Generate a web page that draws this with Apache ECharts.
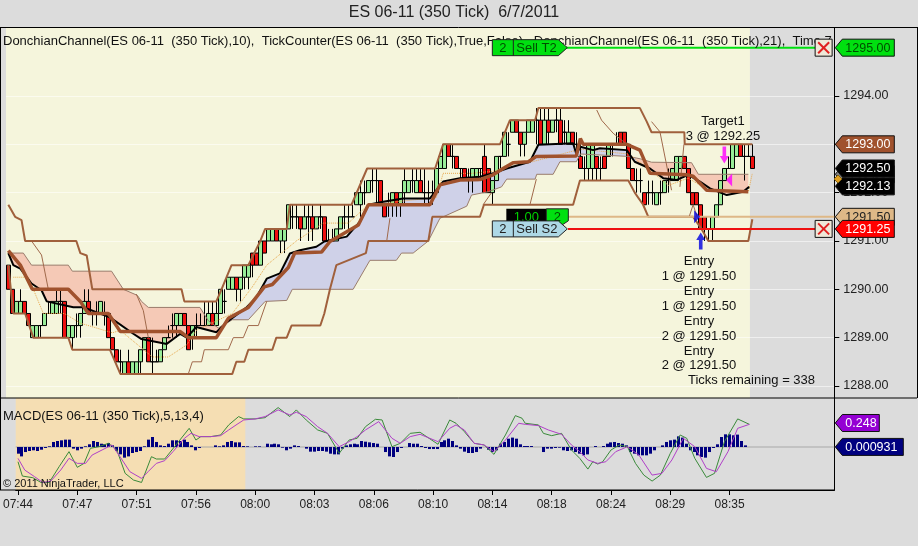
<!DOCTYPE html>
<html><head><meta charset="utf-8"><style>html,body{margin:0;padding:0;background:#dcdcdc;overflow:hidden}#c{width:918px;height:546px}</style>
<script src="https://cdn.jsdelivr.net/npm/echarts@6/dist/echarts.min.js"></script></head><body><div id="c"></div>
<script>
const opens=[1290.5,1290,1289.5,1289.5,1289.75,1289.5,1289,1289,1289.25,1289.25,1289.5,1289.5,1289.5,1289.75,1289.75,1289,1289,1289.25,1289.25,1289.5,1289.75,1289.5,1289.5,1289.5,1289.5,1289.5,1289,1288.75,1288.5,1288.25,1288.5,1288.25,1288.25,1288.5,1288.75,1289,1288.5,1288.5,1288.5,1288.75,1289,1289.25,1289.25,1289.25,1289.5,1289.25,1289,1289.25,1289.25,1289.25,1289.25,1289.5,1289.25,1289.5,1289.75,1290,1290,1290.25,1290,1290.25,1290.25,1290.75,1290.75,1290.5,1291,1291,1291,1291.25,1291,1291,1291.25,1291.5,1291.5,1291.5,1291.25,1291.5,1291.5,1291.25,1291.5,1291.5,1291,1291,1291,1291.25,1291.5,1291.5,1291.5,1291.75,1291.75,1292,1292,1292.25,1292.25,1292.25,1291.75,1291.75,1291.75,1292,1291.75,1292,1292,1292.25,1292,1292.25,1292,1292,1292,1292,1292.5,1292.5,1293,1292.75,1292.75,1292.5,1292.5,1292.25,1292.25,1292.25,1292.5,1292.75,1292.5,1292,1292.25,1292.75,1292.75,1293,1293.25,1293.5,1293.25,1293,1293.25,1293.25,1293.5,1293.5,1293,1293.5,1293.25,1293.5,1293.5,1293.25,1293,1293.25,1293,1292.75,1292.5,1292.5,1292.5,1292.75,1292.5,1292.75,1292.75,1293,1293,1293.25,1293.25,1293,1292.5,1292.25,1292.25,1292,1292,1292,1291.75,1292,1292,1292.25,1292.25,1292.25,1292.5,1292.75,1292.5,1292,1292,1291.75,1291.5,1291.25,1291.25,1291.5,1291.75,1292.25,1292.5,1292.5,1292.75,1293,1292.75,1292.75,1292.75];
const closes=[1290,1289.5,1289.75,1289.75,1289.5,1289.25,1289.25,1289.25,1289.25,1289.5,1289.5,1289.75,1289.75,1289.75,1289,1289.25,1289.25,1289.25,1289.5,1289.75,1289.5,1289.5,1289.5,1289.75,1289.5,1289,1288.75,1288.5,1288.5,1288.5,1288.25,1288.5,1288.5,1288.75,1289,1288.5,1288.5,1288.5,1288.75,1289,1289,1289.25,1289.5,1289.5,1289.25,1288.75,1289.25,1289.25,1289.25,1289.25,1289.5,1289.25,1289.5,1290,1289.75,1290.25,1290.25,1290,1290.25,1290.5,1290.5,1290.5,1290.5,1291,1290.75,1291.25,1291.25,1291,1291.25,1291.25,1291.75,1291.5,1291.5,1291.25,1291.5,1291.5,1291.25,1291.5,1291.5,1291,1291,1291,1291.25,1291.5,1291.5,1291.5,1291.5,1292,1292,1292,1292.25,1292.25,1292.25,1291.75,1291.5,1291.75,1292,1291.75,1292,1292.25,1292.25,1292.25,1292.25,1292,1292,1292,1292,1292.5,1292.75,1293,1292.75,1292.75,1292.5,1292.5,1292.25,1292.25,1292.5,1292.5,1292.5,1292,1292,1292.25,1292.75,1292.75,1293.25,1293,1293.5,1293.25,1293,1293.25,1293.5,1293.5,1293.5,1293,1293.5,1293.25,1293.5,1293.5,1293,1293.25,1293.25,1293,1293,1292.5,1292.5,1293,1293,1292.5,1292.5,1292.5,1293,1293,1293,1293,1293,1292.5,1292.25,1292.25,1292.25,1291.75,1292,1292,1292,1292,1292.25,1292.25,1292.5,1292.75,1292.75,1292.5,1292,1291.75,1291.75,1291.25,1291.25,1291.25,1291.5,1291.75,1292.25,1292.5,1292.5,1293,1293,1292.75,1292.75,1292.75,1292.5];
const lows=[1290,1289.5,1289.5,1289.5,1289.5,1289.25,1289,1289,1289,1289.25,1289.5,1289.5,1289.5,1289.5,1289,1289,1288.75,1289,1289,1289.5,1289.5,1289.25,1289.25,1289.5,1289.25,1289,1288.75,1288.5,1288.25,1288.25,1288.25,1288.25,1288.25,1288.25,1288.75,1288.5,1288.25,1288.5,1288.5,1288.75,1289,1289,1289,1289.25,1289.25,1288.75,1288.75,1289,1289.25,1289.25,1289.25,1289.25,1289.25,1289.5,1289.5,1290,1290,1289.75,1289.75,1290,1290,1290.25,1290.5,1290.5,1290.75,1291,1291,1291,1290.75,1290.75,1291.25,1291.25,1291.25,1291,1291.25,1291,1291,1291.25,1291.25,1291,1291,1291,1291,1291.25,1291.25,1291.25,1291.5,1291.75,1291.5,1291.75,1292,1292,1291.75,1291.75,1291.5,1291.5,1291.5,1291.5,1291.5,1291.75,1292,1292,1292,1292,1291.75,1291.75,1291.75,1292,1292.5,1292.5,1292.75,1292.5,1292.5,1292.25,1292.25,1292,1292,1292.25,1292.25,1292,1292,1291.75,1292.25,1292.5,1292.75,1292.75,1293.25,1293.25,1292.75,1292.75,1293.25,1293.25,1293,1293,1293,1293,1293.25,1293.25,1293,1293,1293,1293,1292.75,1292.5,1292.25,1292.25,1292.25,1292.25,1292.25,1292.5,1292.75,1292.75,1293,1293,1293,1292.5,1292.25,1292,1292,1291.75,1291.75,1291.75,1291.75,1291.75,1292,1292,1292.25,1292.25,1292.5,1292.5,1292,1291.75,1291.75,1291.25,1291,1291,1291,1291.5,1291.75,1292.25,1292.5,1292.5,1292.75,1292.75,1292.25,1292.75,1292.5];
const highs=[1290.5,1290,1289.75,1290,1289.75,1289.5,1289.25,1289.25,1289.25,1289.5,1289.75,1289.75,1290,1290,1289.75,1289.25,1289.25,1289.5,1289.5,1290,1290,1289.5,1289.75,1289.75,1289.75,1289.5,1289,1288.75,1288.75,1288.5,1288.75,1288.5,1288.5,1288.75,1289,1289,1289,1288.75,1288.75,1289,1289.25,1289.5,1289.5,1289.5,1289.5,1289.25,1289.25,1289.5,1289.5,1289.75,1289.75,1289.75,1289.75,1290,1290,1290.25,1290.25,1290.25,1290.25,1290.5,1290.5,1290.75,1290.75,1291,1291,1291.25,1291.25,1291.25,1291.25,1291.25,1291.75,1291.75,1291.75,1291.5,1291.75,1291.75,1291.75,1291.5,1291.75,1291.5,1291.25,1291.25,1291.25,1291.5,1291.75,1291.75,1291.75,1292,1292.25,1292.25,1292.25,1292.5,1292.5,1292.25,1291.75,1292,1292,1292,1292,1292.5,1292.25,1292.5,1292.5,1292.5,1292.5,1292.25,1292.25,1292.5,1292.75,1293,1293,1293,1292.75,1292.5,1292.5,1292.5,1292.5,1292.5,1292.5,1293,1292.5,1292.25,1292.75,1292.75,1293.25,1293.25,1293.5,1293.5,1293.25,1293.25,1293.5,1293.5,1293.75,1293.75,1293.75,1293.75,1293.5,1293.75,1293.75,1293.5,1293.5,1293.25,1293.25,1293,1292.75,1293,1293,1292.75,1292.75,1292.75,1293,1293,1293.25,1293.25,1293.25,1293,1292.5,1292.5,1292.5,1292,1292.25,1292.25,1292,1292.25,1292.25,1292.5,1292.5,1292.75,1292.75,1292.75,1292.5,1292,1292,1291.75,1291.5,1291.25,1291.5,1291.75,1292.25,1292.5,1292.75,1293,1293,1293,1293,1293,1293];

const timeLabels=['07:44','07:47','07:51','07:56','08:00','08:03','08:06','08:10','08:14','08:18','08:24','08:29','08:35'];
const timeTickBars=[0,15,30,45,60,75,90,105,120,135,150,165,180];
const priceTicks=[1288,1289,1290,1291,1292,1293,1294];

const channelUpper=[[0,1291.75],[1.7,1291.5],[3.3,1291.43],[4.2,1291],[17,1291],[18,1290.75],[19.6,1290.7],[21,1290],[43.3,1290],[44,1289.75],[52,1289.75],[53.3,1290],[55.8,1290.5],[60,1290.5],[63,1291],[64.2,1291.25],[69.6,1291.25],[70.4,1291.75],[85.8,1291.75],[89.7,1292.5],[106.7,1292.5],[108.7,1293],[122.9,1293],[125.4,1293.5],[131.7,1293.5],[132.5,1293.75],[157.9,1293.75],[159.6,1293.47],[160.8,1293.25],[169,1293.25],[169.1,1293],[186,1293]];
const channelLower=[[0,1290.5],[1.25,1289.5],[4.2,1289.5],[6.25,1289],[15,1289],[16,1288.75],[25.4,1288.75],[28,1288.25],[56,1288.25],[57,1288.5],[59,1288.5],[60,1288.75],[66,1288.75],[67,1289],[69.6,1289],[70.8,1289.25],[78,1289.25],[79,1289.5],[80.4,1290],[82,1290.5],[89.4,1290.75],[90,1291],[105,1291],[106,1291.5],[117.9,1291.5],[118.9,1291.75],[141.2,1291.75],[142.9,1292.25],[155,1292.25],[156.6,1292],[158.7,1291.75],[160,1291.5],[171.2,1291.5],[173.3,1291.25],[175,1291],[185,1291],[186,1291.45]];
const midThick=[[0,1290.8],[3,1290.5],[6,1290],[15,1290],[18,1289.75],[20,1289.5],[25,1289.5],[28,1289.125],[43,1289.125],[45,1289],[52,1289],[55,1289.4],[60,1289.625],[64,1290.05],[66,1290.1],[70,1290.45],[71.6,1290.75],[78.3,1290.77],[80.4,1290.99],[87.5,1291.33],[90,1291.75],[105.4,1291.75],[107.9,1292.16],[112.9,1292.26],[117.9,1292.27],[121.2,1292.37],[123.7,1292.5],[126.2,1292.62],[130,1292.64],[132,1292.75],[142,1292.76],[143,1293.12],[143.7,1293],[154.6,1293],[157.9,1292.88],[160.4,1292.4],[169.6,1292.37],[171.2,1292.34],[174.6,1292.05],[185,1292.02]];
const trendBlack=[[0,1290.75],[1.25,1290.5],[3,1290.43],[5.8,1290.12],[8.3,1289.98],[9.6,1289.75],[16.25,1289.63],[18.75,1289.63],[25.4,1289.42],[31.25,1289.08],[33.3,1288.97],[39.6,1288.87],[43,1289.08],[44.6,1289],[47,1289.22],[52,1289.11],[54.6,1289.32],[59.6,1289.63],[62,1289.83],[64.6,1290.22],[67.9,1290.33],[70.4,1290.74],[72.9,1290.81],[77,1290.88],[79,1290.99],[84.6,1291.09],[87.9,1291.4],[90,1291.75],[93.7,1291.81],[98.7,1291.88],[105.4,1291.88],[108.7,1292.23],[112.9,1292.3],[117.9,1292.33],[121.2,1292.4],[124.6,1292.5],[130.4,1292.64],[132.5,1292.99],[141.2,1293.02],[142,1292.8],[143,1292.95],[146.2,1292.88],[147.9,1292.92],[154.6,1292.88],[156.6,1292.64],[160.4,1292.5],[163.7,1292.3],[167,1292.26],[170,1292.37],[172.9,1292.23],[175.4,1292.09],[179.6,1291.95],[183.7,1292.02],[185.2,1292.12]];
const cloudEdge=[[0,1290.75],[3.75,1290.75],[5.8,1290.5],[15,1290.5],[16,1290.375],[25.8,1290.375],[28.75,1290],[32.25,1289.875],[33.3,1289.75],[35,1289.625],[47.9,1289.625],[50,1289.35],[52.5,1289.2],[56,1289.37],[60,1289.37],[64.2,1289.75],[69.6,1289.77],[71,1290],[86.2,1290],[90.4,1290.6],[97,1290.6],[98.3,1290.75],[101.2,1290.75],[105,1291],[107.9,1291.47],[114.6,1291.72],[115.8,1291.95],[120,1292.02],[123.3,1292.12],[124.6,1292.28],[131.7,1292.28],[132.1,1292.38],[136.2,1292.38],[137.9,1292.64],[142,1292.64],[143,1292.8],[155,1292.75],[158,1292.7],[160.8,1292.63],[170.8,1292.62],[172.5,1292.38],[185,1292.38]];
const dottedLine=[[1.25,1290.25],[5,1290.25],[8.75,1289.5],[14,1289.5],[18,1289.3],[26,1289.1],[28,1289.15],[36,1288.6],[40,1288.6],[44.6,1288.85],[47,1289.15],[56,1289.5],[61,1290.05],[64.6,1290.5],[72,1291],[78.7,1291.37],[85,1291.37],[90,1291.75],[107,1291.9],[108.7,1292.4],[116,1292.4],[122,1292.45],[126,1292.64],[131,1292.64],[143,1292.9],[155,1292.8],[160,1292.5],[165,1292.15],[170,1292.3],[175,1292.05],[185,1292.02],[186,1292.4]];
const thinSegments=[
 [[5.8,1291],[8.3,1290.71],[10,1290]],
 [[32,1289.9],[33.75,1289.56],[35,1289]],
 [[45,1288.25],[46,1288.5],[48.3,1288.5],[49,1288.75],[55,1288.75],[56.25,1289],[58.75,1289],[60,1289.25],[62.5,1289.25],[64.6,1289.75]],
 [[94.6,1291],[95.4,1291.47]],
 [[118.7,1291.75],[120.8,1292]],
 [[130.4,1291.75],[132,1292.28]],
 [[147.1,1293.71],[148.3,1293.5],[151.2,1293.23],[154.6,1293]],
 [[160.8,1293.47],[162.9,1293.26],[164.4,1292.64],[165.8,1292.05]],
 [[167.9,1292.12],[168.9,1293]],
 [[170.2,1291.5],[171.2,1291.75],[172.2,1291.5]]
];
const macdLine=[[0,-.152],[1.1,-.3],[3.75,-.317],[5.8,-.366],[7.9,-.366],[10.4,-.203],[12.9,-.048],[15,-.21],[16.7,-.169],[18.3,-.014],[20.4,.003],[22.9,.038],[25,-.031],[27.1,-.272],[29.2,-.341],[31.25,-.366],[33.75,-.1],[35,-.124],[37.1,-.124],[39.6,.003],[43.3,.193],[45,.072],[46.25,.107],[48.75,.107],[51.25,.124],[53.3,.228],[55.8,.314],[57.1,.29],[60,.29],[62.5,.303],[65.8,.407],[68.75,.314],[70.4,.383],[72.9,.279],[75.8,.176],[78.3,.141],[81.25,-.066],[83.75,.072],[85.8,.09],[87.9,.21],[90.4,.286],[92.1,.279],[94.6,.003],[96.7,.038],[99.2,.141],[101.7,.152],[106.25,.028],[109.2,.279],[110.8,.245],[112.9,.159],[115.4,.038],[117.9,.021],[120.4,-.076],[123.3,.124],[125.8,.324],[127.5,.297],[128.3,.245],[131.65,.228],[132.9,.141],[135,.117],[137.5,.141],[140,-.031],[142.1,-.117],[144.15,-.228],[145.4,-.152],[146.65,-.176],[147.9,-.152],[150,-.031],[152.1,.021],[154.15,.003],[156.2,-.169],[158.3,-.29],[160.4,-.352],[162.5,-.29],[165,-.066],[167.5,.124],[169.15,.09],[171.2,-.117],[174.15,-.314],[176.2,-.272],[178.7,.055],[182.05,.29],[185,.234]];
const macdAvg=[[0,-.117],[1.7,-.238],[4.2,-.307],[6.25,-.366],[8.3,-.352],[10.8,-.238],[12.9,-.117],[15,-.169],[17.1,-.169],[18.75,-.083],[21.25,-.031],[23.75,.021],[25.8,-.1],[28.3,-.255],[31.25,-.324],[32.9,-.255],[35,-.169],[37.1,-.141],[39.2,-.048],[42.1,.09],[43.75,.141],[45.8,.107],[48.75,.107],[51.25,.117],[53.3,.176],[55.4,.234],[57.1,.279],[60,.29],[62.5,.314],[65.8,.383],[68.75,.331],[70.4,.359],[72.9,.314],[75.8,.21],[78.3,.141],[81.25,.003],[83.75,.055],[85.8,.107],[87.9,.176],[91.25,.262],[94.6,.09],[96.7,.038],[99.2,.107],[101.7,.131],[106.25,.055],[109.2,.193],[110.8,.228],[112.9,.176],[115.4,.038],[117.9,.021],[120.4,-.048],[123.3,.072],[126.65,.245],[128.3,.234],[131.65,.221],[134.15,.176],[137.5,.131],[140,.021],[142.1,-.048],[144.15,-.134],[146.65,-.169],[148.7,-.152],[151.2,-.048],[154.15,.003],[157.05,-.083],[160.4,-.29],[162.9,-.272],[165.4,-.134],[168.3,.09],[171.2,.003],[174.15,-.221],[176.65,-.255],[179.6,-.048],[182.05,.193],[185,.234]];
const macdDiff=[-.069,-.097,-.052,-.041,-.034,-.041,-.028,-.01,.007,.052,.062,.069,.076,.076,-.017,-.034,-.017,.007,.028,.062,.052,.034,.028,.041,.017,-.041,-.076,-.11,-.097,-.062,-.052,-.041,.007,.076,.103,.052,.017,.01,.034,.069,.069,.062,.076,.052,.017,-.034,-.01,0,0,0,.017,.007,.017,.052,.062,.048,.048,.01,.007,0,.007,.007,0,.034,.028,.034,.028,-.007,-.034,-.017,.017,.01,0,-.017,-.048,-.048,-.041,-.041,-.048,-.069,-.076,-.076,-.017,.017,.028,.034,.028,.062,.055,.048,.041,.034,0,-.052,-.097,-.103,-.052,-.01,0,.041,.034,.034,.01,-.01,-.021,-.021,-.021,.052,.069,.086,.062,.017,-.017,-.048,-.062,-.062,-.052,-.017,0,-.028,-.052,-.034,.034,.052,.086,.097,.086,.028,.01,.01,.01,0,0,-.052,-.017,-.017,-.01,-.007,-.034,-.041,-.034,-.052,-.069,-.086,-.076,0,.01,0,.01,.034,.048,.052,.041,.034,.017,-.052,-.069,-.086,-.086,-.086,-.069,-.034,0,.017,.052,.069,.076,.11,.097,.034,-.034,-.052,-.086,-.103,-.11,-.052,-.01,.028,.103,.131,.131,.121,.128,.062,.017,0,0];

const flagPrices=[1295,1293,1292.38,1292.5,1292.13,1291.5,1291.25];
const flagTexts=['1295.00','1293.00','1292.38','1292.50','1292.13','1291.50','1291.25'];
const macdFlagValues=[0.248,0.000931];
const macdFlagTexts=['0.248','0.000931'];
const orderLinePrices=[1295,1291.5,1291.25];
const entryArrow=[[173.1,1291]];
const fillTriangle=[[172.2,1291.5]];
const exitArrow=[[179,1292.78]];
const exitTriangle=[[180.2,1292.26]];

const FONT='"Liberation Sans",Arial,sans-serif';
const flagStyle=[
 {fill:'#00e010',text:'#004d00'},{fill:'#a0522d',text:'#fff'},{fill:'#808080',text:'#ccc'},
 {fill:'#000',text:'#fff'},{fill:'#000',text:'#fff'},{fill:'#deb887',text:'#222'},{fill:'#ff0000',text:'#fff'}];
const macdFlagStyle=[{fill:'#9400d3',w:44},{fill:'#000080',w:68}];

const XMIN=-0.58, XMAX=206.49;
const lineS=(name,data,color,width,z,extra)=>Object.assign({name,type:'line',data,symbol:'none',silent:true,animation:false,z,lineStyle:{color,width}},extra||{});

function cut(pts,a,b){
  const at=x=>{for(let i=1;i<pts.length;i++){if(x<=pts[i][0]){const p=pts[i-1],q=pts[i],t=(x-p[0])/(q[0]-p[0]);return [x,p[1]+t*(q[1]-p[1])];}}return pts[pts.length-1];};
  return [at(a),...pts.filter(p=>p[0]>a&&p[0]<b),at(b)];
}
const cloudSpans=[[0,53.5,'#f5c9b6'],[53.5,157,'#cfd1e8'],[157,185,'#f5c9b6']];
const cloudSeries={type:'custom',silent:true,animation:false,z:1,data:[[0,1291]],renderItem(p,api){
  return {type:'group',children:cloudSpans.map(([a,b,c])=>{
    const up=cut(cloudEdge,a,b),dn=cut(trendBlack,a,b).reverse();
    return {type:'polygon',shape:{points:up.concat(dn).map(q=>api.coord(q))},style:{fill:c}};
  })};
}};
const bandSeries=(bands,xi)=>({type:'custom',silent:true,animation:false,z:0,xAxisIndex:xi,yAxisIndex:xi,data:[[0,0]],clip:false,
 renderItem(p,api){const s=p.coordSys;return {type:'group',children:bands.map(([a,b,c])=>{
   const x0=api.coord([a,api.value(1)])[0],x1=api.coord([b,api.value(1)])[0];
   return {type:'rect',shape:{x:x0,y:s.y,width:x1-x0,height:s.height},style:{fill:c}};
 })};},encode:{x:0,y:1}});

function flagGroup(cx,cy,w,fill,text,tc,font){
  const h=8.5;
  return {type:'group',children:[
   {type:'polygon',shape:{points:[[cx,cy],[cx+7,cy-h],[cx+w,cy-h],[cx+w,cy+h],[cx+7,cy+h]]},style:{fill,stroke:'#111',lineWidth:1}},
   {type:'text',style:{x:cx+10,y:cy+.5,text,fill:tc,font:font||('12.5px '+FONT),textVerticalAlign:'middle',verticalAlign:'middle'}}]};
}
const priceFlagSeries={type:'custom',silent:true,animation:false,z:20,clip:false,encode:{x:0,y:1},
 data:flagPrices.map((p,i)=>[200,p,i]),
 renderItem(par,api){const i=api.value(2),c=api.coord([200,api.value(1)]),s=par.coordSys,st=flagStyle[i];
   return flagGroup(s.x+s.width+1,c[1],59,st.fill,flagTexts[i],st.text);}};
const macdFlagSeries={type:'custom',silent:true,animation:false,z:20,clip:false,xAxisIndex:1,yAxisIndex:1,encode:{x:0,y:1},
 data:macdFlagValues.map((p,i)=>[200,p,i]),
 renderItem(par,api){const i=api.value(2),c=api.coord([200,api.value(1)]),s=par.coordSys,st=macdFlagStyle[i];
   return flagGroup(s.x+s.width+1,c[1],st.w,st.fill,macdFlagTexts[i],'#fff');}};
const deleteBoxSeries={type:'custom',silent:true,animation:false,z:19,clip:false,encode:{x:0,y:1},
 data:[[201.7,1295],[201.7,1291.25]],
 renderItem(par,api){const c=api.coord([api.value(0),api.value(1)]),x=c[0],y=c[1];
  return {type:'group',children:[
   {type:'rect',shape:{x,y:y-8.5,width:17,height:17},style:{fill:'#eee8d8',stroke:'#111',lineWidth:1}},
   {type:'line',shape:{x1:x+3,y1:y-5.5,x2:x+14,y2:y+5.5},style:{stroke:'#e02020',lineWidth:2}},
   {type:'line',shape:{x1:x+14,y1:y-5.5,x2:x+3,y2:y+5.5},style:{stroke:'#e02020',lineWidth:2}}]};}};
function orderTag(x,y,qty,name,fill,tc){
  const h=8;
  return [{type:'polygon',shape:{points:[[x,y-h],[x+66,y-h],[x+75,y],[x+66,y+h],[x,y+h]]},style:{fill,stroke:'#222',lineWidth:1}},
   {type:'line',shape:{x1:x+21,y1:y-h,x2:x+21,y2:y+h},style:{stroke:'#222',lineWidth:1}},
   {type:'text',style:{x:x+10.5,y:y+.5,text:qty,fill:tc,font:'13px '+FONT,textAlign:'center',textVerticalAlign:'middle',verticalAlign:'middle'}},
   {type:'text',style:{x:x+24,y:y+.5,text:name,fill:tc,font:'13px '+FONT,textVerticalAlign:'middle',verticalAlign:'middle'}}];
}
const orderTagSeries={type:'custom',silent:true,animation:false,z:18,clip:false,encode:{x:0,y:1},data:[[121,1291.25]],
 renderItem(par,api){
  const x=api.coord([121,1291])[0];
  const yT=api.coord([121,1295])[1],yS=api.coord([121,1291.25])[1],yP=api.coord([121,1291.5])[1];
  return {type:'group',children:[
   {type:'rect',shape:{x:x+14,y:yP-8,width:40,height:16},style:{fill:'#000'}},
   {type:'text',style:{x:x+34,y:yP+.5,text:'1.00',fill:'#00d000',font:'13px '+FONT,textAlign:'center',textVerticalAlign:'middle',verticalAlign:'middle'}},
   {type:'polygon',shape:{points:[[x+54,yP-8],[x+76,yP-8],[x+76,yP+4],[x+70,yP+8],[x+54,yP+8]]},style:{fill:'#00e010',stroke:'#222',lineWidth:1}},
   {type:'text',style:{x:x+65,y:yP+.5,text:'2',fill:'#004d00',font:'13px '+FONT,textAlign:'center',textVerticalAlign:'middle',verticalAlign:'middle'}},
   ...orderTag(x,yT,'2','Sell T2','#00e010','#004d00'),
   ...orderTag(x,yS,'2','Sell S2','#add8e6','#222')]};}};
const histSeries={type:'custom',silent:true,animation:false,z:3,xAxisIndex:1,yAxisIndex:1,encode:{x:0,y:1},
 data:macdDiff.map((v,i)=>[i,v]),
 renderItem(par,api){const a=api.coord([api.value(0),0]),b=api.coord([api.value(0),api.value(1)]);
  return {type:'rect',shape:{x:Math.round(a[0]-1.5),y:Math.min(a[1],b[1]),width:3,height:Math.abs(a[1]-b[1])},style:{fill:'#000080'}};}};
const zeroLine=lineS('zero',[[XMIN,0],[XMAX,0]],'#a8a8a8',1,2,{xAxisIndex:1,yAxisIndex:1});

const marker=(data,path,size,color,rot)=>({type:'scatter',data,symbol:path,symbolSize:size,symbolRotate:rot||0,itemStyle:{color},silent:true,animation:false,z:12});
const ARROW='path://M5 0L10 7L7 7L7 16L3 16L3 7L0 7Z',TRI='path://M0 5L8 0L8 10Z';

const series=[
 bandSeries([[XMIN,185.4,'#f5f5dc']],0),
 cloudSeries,
 {type:'candlestick',data:opens.map((o,i)=>[i,o,closes[i],lows[i],highs[i]]),encode:{x:0,y:[1,2,3,4]},barWidth:4,silent:true,animation:false,z:3,
  itemStyle:{color:'#98ec98',color0:'#ee1010',borderColor:'#000',borderColor0:'#000',borderWidth:1}},
 lineS('upper',channelUpper,'#a0603c',2,6),
 lineS('lower',channelLower,'#a0603c',2,6),
 lineS('edge',cloudEdge,'#9a7c6c',1,5),
 ...thinSegments.map((s,i)=>lineS('thin'+i,s,'#a0694b',1,5)),
 lineS('dotted',dottedLine,'#e8a84c',1,5,{lineStyle:{color:'#e8a84c',width:1,type:'dotted'}}),
 lineS('black',trendBlack,'#000',2,7),
 lineS('mid',midThick,'#a0522d',3.5,8),
 lineS('t2',[[139.4,orderLinePrices[0]],[201.7,orderLinePrices[0]]],'#00e010',2,9),
 lineS('tan',[[139.9,orderLinePrices[1]],[XMAX,orderLinePrices[1]]],'#deb887',2,9),
 lineS('s2',[[139.9,orderLinePrices[2]],[201.7,orderLinePrices[2]]],'#ee1010',2,9),
 marker(entryArrow,ARROW,[9,17],'#0000e0'),
 marker(fillTriangle,TRI,[6,13],'#0000e0',180),
 marker(exitArrow,ARROW,[9,17],'#ff00ff',180),
 marker(exitTriangle,TRI,[6,13],'#ff00ff'),
 deleteBoxSeries,orderTagSeries,priceFlagSeries,
 bandSeries([[XMIN,57.5,'#f5deb3']],1),
 zeroLine,histSeries,
 lineS('macd',macdLine,'#3a8a3a',1,5,{xAxisIndex:1,yAxisIndex:1}),
 lineS('avg',macdAvg,'#b040c8',1,5,{xAxisIndex:1,yAxisIndex:1}),
 macdFlagSeries
];

const xBase={type:'value',min:XMIN,max:XMAX,splitLine:{show:false}};
const option={
 backgroundColor:'#dcdcdc',animation:false,
 grid:[{left:6,top:28,width:828.3,height:370,show:false},{left:6,top:398,width:828.3,height:92,show:false}],
 xAxis:[Object.assign({},xBase,{gridIndex:0,axisLine:{show:false},axisTick:{show:false},axisLabel:{show:false}}),
  Object.assign({},xBase,{gridIndex:1,axisLine:{show:true,onZero:false,lineStyle:{color:'#000'}},
   axisTick:{show:true,length:5,lineStyle:{color:'#000'},customValues:timeTickBars},
   axisLabel:{show:true,customValues:timeTickBars,margin:9,color:'#222',fontFamily:'"Liberation Sans"',fontSize:12,hideOverlap:false,formatter:v=>timeLabels[timeTickBars.indexOf(v)]||''}})],
 yAxis:[{type:'value',gridIndex:0,position:'right',min:1287.751,max:1295.407,z:1,
   axisLine:{show:true,onZero:false,lineStyle:{color:'#000'}},
   axisTick:{show:true,length:5,inside:false,lineStyle:{color:'#000'},customValues:priceTicks},
   axisLabel:{show:true,customValues:priceTicks,margin:9,color:'#222',fontFamily:'"Liberation Sans"',fontSize:12.5,formatter:v=>v.toFixed(2)},
   splitLine:{show:true,lineStyle:{color:'rgba(255,255,255,0.55)',width:1}}},
  {type:'value',gridIndex:1,position:'right',min:-0.444,max:0.506,axisLine:{show:true,onZero:false,lineStyle:{color:'#000'}},axisTick:{show:false},axisLabel:{show:false},splitLine:{show:false}}],
 series,
 graphic:[
  ...[['ES 06-11 (350 Tick)  6/7/2011',454,13,'center',16,'#222'],
     ['DonchianChannel(ES 06-11  (350 Tick),10),  TickCounter(ES 06-11  (350 Tick),True,False),  DonchianChannel(ES 06-11  (350 Tick),21),  Time 7',3,41,'left',13,'#111'],
     ['Target1',723,121,'center',13,'#111'],['3 @ 1292.25',723,136,'center',13,'#111'],
     ['Entry',699,261,'center',13,'#111'],['1 @ 1291.50',699,276,'center',13,'#111'],
     ['Entry',699,291,'center',13,'#111'],['1 @ 1291.50',699,306,'center',13,'#111'],
     ['Entry',699,321,'center',13,'#111'],['2 @ 1291.50',699,336,'center',13,'#111'],
     ['Entry',699,351,'center',13,'#111'],['2 @ 1291.50',699,365,'center',13,'#111'],
     ['Ticks remaining = 338',688,380,'left',13,'#111'],
     ['MACD(ES 06-11 (350 Tick),5,13,4)',3,416,'left',13,'#111'],
     ['\u00a9 2011 NinjaTrader, LLC',3,484,'left',11,'#111']
    ].map(([text,x,y,align,size,fill])=>({type:'text',z:15,silent:true,style:{text,x,y,fill,textAlign:align,textVerticalAlign:'middle',verticalAlign:'middle',font:size+'px '+FONT}})),
  ...[[0,27.5,917,27.5],[0,398,917,398],[0.5,27,0.5,490],[917.5,27,917.5,398],[0,490,835,490]].map(([x1,y1,x2,y2])=>({type:'line',z:16,silent:true,shape:{x1,y1,x2,y2},style:{stroke:'#000',lineWidth:1}})),
  {type:'polygon',z:30,silent:true,shape:{points:[[838,175],[842,179],[838,183],[834,179]]},style:{fill:'#e0a020',stroke:'#806010'}}
 ]
};
echarts.init(document.getElementById('c'),null,{renderer:'canvas'}).setOption(option);
</script></body></html>
